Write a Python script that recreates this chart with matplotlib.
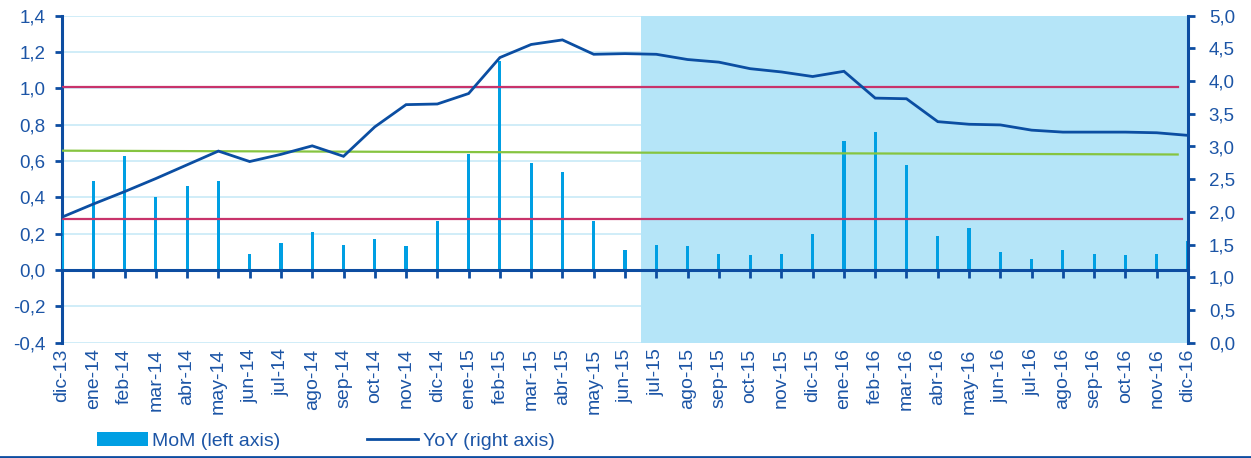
import matplotlib
matplotlib.use("Agg")
import matplotlib.pyplot as plt
from matplotlib.lines import Line2D
from matplotlib.patches import Patch

plt.rcParams['font.family'] = ['Liberation Sans', 'DejaVu Sans']

months = ["dic-13", "ene-14", "feb-14", "mar-14", "abr-14", "may-14", "jun-14", "jul-14",
          "ago-14", "sep-14", "oct-14", "nov-14", "dic-14", "ene-15", "feb-15", "mar-15",
          "abr-15", "may-15", "jun-15", "jul-15", "ago-15", "sep-15", "oct-15", "nov-15",
          "dic-15", "ene-16", "feb-16", "mar-16", "abr-16", "may-16", "jun-16", "jul-16",
          "ago-16", "sep-16", "oct-16", "nov-16", "dic-16"]
mom = [0.30, 0.49, 0.63, 0.40, 0.46, 0.49, 0.09, 0.15, 0.21, 0.14, 0.17, 0.13,
       0.27, 0.64, 1.15, 0.59, 0.54, 0.27, 0.11, 0.14, 0.13, 0.09, 0.08, 0.09,
       0.20, 0.71, 0.76, 0.58, 0.19, 0.23, 0.10, 0.06, 0.11, 0.09, 0.08, 0.09, 0.16]
yoy = [1.92, 2.12, 2.31, 2.51, 2.72, 2.93, 2.77, 2.88, 3.01, 2.85, 3.30, 3.64,
       3.65, 3.81, 4.36, 4.56, 4.63, 4.41, 4.42, 4.41, 4.33, 4.29, 4.19, 4.14,
       4.07, 4.15, 3.74, 3.73, 3.38, 3.34, 3.33, 3.25, 3.22, 3.22, 3.22, 3.21, 3.17]
upper_band = 1.005
lower_band = 0.283
trend_ends = [0.657, 0.636]
forecast_from = "jul-15"

left_ticks = [-0.4, -0.2, 0.0, 0.2, 0.4, 0.6, 0.8, 1.0, 1.2, 1.4]
right_ticks = [0.0, 0.5, 1.0, 1.5, 2.0, 2.5, 3.0, 3.5, 4.0, 4.5, 5.0]

TXT = '#1C55A6'
AX = '#0D4DA1'
BAR = '#009FE3'
LINE = '#0B4EA2'
RED = '#C8336B'
GREEN = '#86C440'
SHADE = '#B5E5F8'
GRID = '#C8EAF7'

W, H = 1251, 458
fig = plt.figure(figsize=(W / 100, H / 100), dpi=100)
x0, x1, ytop, ybot = 62, 1188, 15.7, 342.7
ax = fig.add_axes([x0 / W, 1 - ybot / H, (x1 - x0) / W, (ybot - ytop) / H])
ax2 = ax.twinx()

xs = list(range(len(months)))
ax.set_xlim(0, len(months) - 1)
ax.set_ylim(-0.4, 1.4)
ax2.set_ylim(0, 5)

# gridlines (below the shading)
ax.set_yticks(left_ticks)
for v in left_ticks:
    ax.axhline(v, color=GRID, lw=1.2, zorder=0.3)

# forecast shading
fs = months.index(forecast_from) - 0.5
ax.axvspan(fs, len(months) - 1, color=SHADE, lw=0, zorder=0.6)

# bars
ax.bar(xs, mom, width=0.1, color=BAR, zorder=3)

# reference lines
ax.axhline(upper_band, xmin=0, xmax=0.9915, color=RED, lw=1.6, zorder=4)
ax.axhline(lower_band, xmin=0, xmax=0.995, color=RED, lw=1.6, zorder=4)
ax.plot([0, 35.67], trend_ends, color=GREEN, lw=1.6, zorder=4)

# YoY line
ax2.plot(xs, yoy, color=LINE, lw=2.0, zorder=5, solid_joinstyle='miter')

# spines
ax.spines['top'].set_visible(False)
ax2.spines['top'].set_visible(False)
ax2.spines['bottom'].set_visible(False)
ax2.spines['left'].set_visible(False)
ax.spines['right'].set_visible(False)
ax.spines['left'].set_color(AX)
ax.spines['left'].set_linewidth(2.2)
ax2.spines['right'].set_color(AX)
ax2.spines['right'].set_linewidth(2.2)
ax.spines['bottom'].set_position(('data', 0))
ax.spines['bottom'].set_color(AX)
ax.spines['bottom'].set_linewidth(2.2)
ax.spines['bottom'].set_zorder(6)

ax.set_yticklabels([f"{v:.1f}".replace('.', ',') for v in left_ticks])
ax.tick_params(axis='y', colors=AX, labelcolor=TXT, length=5, width=2, pad=7, labelsize=13.5)
ax2.set_yticks(right_ticks)
ax2.set_yticklabels([f"{v:.1f}".replace('.', ',') for v in right_ticks])
ax2.tick_params(axis='y', colors=AX, labelcolor=TXT, length=5, width=2, pad=10, labelsize=13.5)

ax.set_xticks(xs)
ax.tick_params(axis='x', colors=AX, length=6, width=2, direction='out', labelbottom=False)
ax.xaxis.set_zorder(5)
ax.yaxis.set_zorder(5)

# mirror x ticks on the twin axis too, so they sit above everything
ax2.xaxis.set_visible(True)
ax2.set_xticks(xs)
ax2.tick_params(axis='x', which='both', bottom=False, top=False, labelbottom=False, labeltop=False)

sec = ax.secondary_xaxis(0)
sec.set_xticks(xs)
sec.set_xticklabels(months, rotation=90, color=TXT, fontsize=14)
sec.tick_params(axis='x', length=0, pad=4)
sec.spines['bottom'].set_visible(False)

# legend
handles = [Patch(facecolor=BAR, edgecolor='none'), Line2D([], [], color=LINE, lw=2)]
leg = fig.legend(handles, ["MoM (left axis)", "YoY (right axis)"], loc='center left',
                 bbox_to_anchor=(97 / W, 1 - 441 / H), ncol=2, frameon=False,
                 fontsize=14, handlelength=2.6, handleheight=0.75, handletextpad=0.25,
                 columnspacing=4.45, borderaxespad=0, borderpad=0)
for t in leg.get_texts():
    t.set_color(TXT)

# bottom border line
fig.add_artist(Line2D([0, 1], [1.5 / H, 1.5 / H], transform=fig.transFigure, color=AX, lw=2))

fig.savefig("out.png", dpi=100)
